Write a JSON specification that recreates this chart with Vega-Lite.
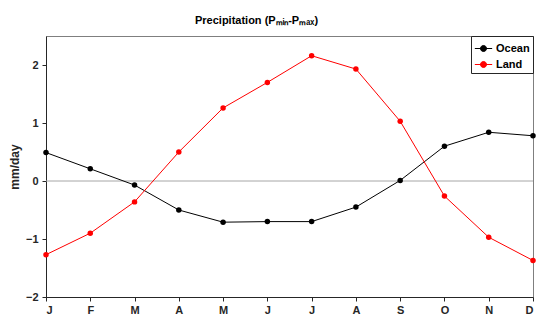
{
  "$schema": "https://vega.github.io/schema/vega-lite/v6.json",
  "autosize": "none",
  "width": 487,
  "height": 261,
  "padding": {"left": 46, "top": 36, "right": 3, "bottom": 23},
  "background": "white",
  "title": {
    "text": "Precipitation (Pₘᵢₙ-Pₘₐₓ)",
    "font": "Liberation Sans",
    "fontSize": 11,
    "fontWeight": "bold",
    "color": "#000000",
    "anchor": "middle",
    "dx": -33,
    "offset": 10
  },
  "config": {
    "view": {"stroke": "#7f7f7f", "strokeWidth": 1},
    "axis": {
      "labelFont": "Liberation Sans",
      "labelFontSize": 11,
      "labelFontWeight": "bold",
      "labelColor": "#262626",
      "titleFont": "Liberation Sans",
      "titleFontSize": 12,
      "titleFontWeight": "bold",
      "titleColor": "#262626",
      "domainColor": "#262626",
      "tickColor": "#262626",
      "grid": false,
      "tickSize": 4
    }
  },
  "data": {
    "values": [
      {"m": 1, "series": "Ocean", "v": 0.49},
      {"m": 2, "series": "Ocean", "v": 0.21},
      {"m": 3, "series": "Ocean", "v": -0.07},
      {"m": 4, "series": "Ocean", "v": -0.5},
      {"m": 5, "series": "Ocean", "v": -0.71},
      {"m": 6, "series": "Ocean", "v": -0.7},
      {"m": 7, "series": "Ocean", "v": -0.7},
      {"m": 8, "series": "Ocean", "v": -0.45},
      {"m": 9, "series": "Ocean", "v": 0.01},
      {"m": 10, "series": "Ocean", "v": 0.6},
      {"m": 11, "series": "Ocean", "v": 0.84},
      {"m": 12, "series": "Ocean", "v": 0.78},
      {"m": 1, "series": "Land", "v": -1.27},
      {"m": 2, "series": "Land", "v": -0.9},
      {"m": 3, "series": "Land", "v": -0.36},
      {"m": 4, "series": "Land", "v": 0.5},
      {"m": 5, "series": "Land", "v": 1.26},
      {"m": 6, "series": "Land", "v": 1.7},
      {"m": 7, "series": "Land", "v": 2.16},
      {"m": 8, "series": "Land", "v": 1.93},
      {"m": 9, "series": "Land", "v": 1.03},
      {"m": 10, "series": "Land", "v": -0.26},
      {"m": 11, "series": "Land", "v": -0.97},
      {"m": 12, "series": "Land", "v": -1.37}
    ]
  },
  "layer": [
    {
      "data": {"values": [{"y": 0}]},
      "mark": {"type": "rule", "color": "#a6a6a6", "strokeWidth": 1},
      "encoding": {"y": {"field": "y", "type": "quantitative"}}
    },
    {
      "mark": {"type": "line", "strokeWidth": 1, "point": {"filled": true, "size": 30, "opacity": 1}},
      "encoding": {
        "x": {
          "field": "m",
          "type": "quantitative",
          "scale": {"domain": [1, 12], "nice": false, "zero": false},
          "axis": {
            "title": null,
            "values": [1,2,3,4,5,6,7,8,9,10,11,12],
            "labelExpr": "['J','F','M','A','M','J','J','A','S','O','N','D'][datum.value-1]",
            "labelPadding": 3
          }
        },
        "y": {
          "field": "v",
          "type": "quantitative",
          "scale": {"domain": [-2, 2.5], "nice": false},
          "axis": {"title": "mm/day", "values": [-2,-1,0,1,2], "format": "d", "titlePadding": 4, "labelPadding": 4}
        },
        "color": {
          "field": "series",
          "type": "nominal",
          "scale": {"domain": ["Ocean", "Land"], "range": ["#000000", "#ff0000"]},
          "legend": {
            "title": null,
            "orient": "top-right",
            "offset": 0,
            "padding": 3,
            "strokeColor": "#262626",
            "fillColor": "white",
            "labelFont": "Liberation Sans",
            "labelFontSize": 11,
            "labelFontWeight": "bold",
            "labelColor": "#000000",
            "symbolType": "M-1,0H1M-0.35,0A0.35,0.35 0 1,0 0.35,0A0.35,0.35 0 1,0 -0.35,0Z",
            "symbolSize": 300,
            "symbolStrokeWidth": 1,
            "rowPadding": 1,
            "labelOffset": 3
          }
        }
      }
    }
  ]
}
